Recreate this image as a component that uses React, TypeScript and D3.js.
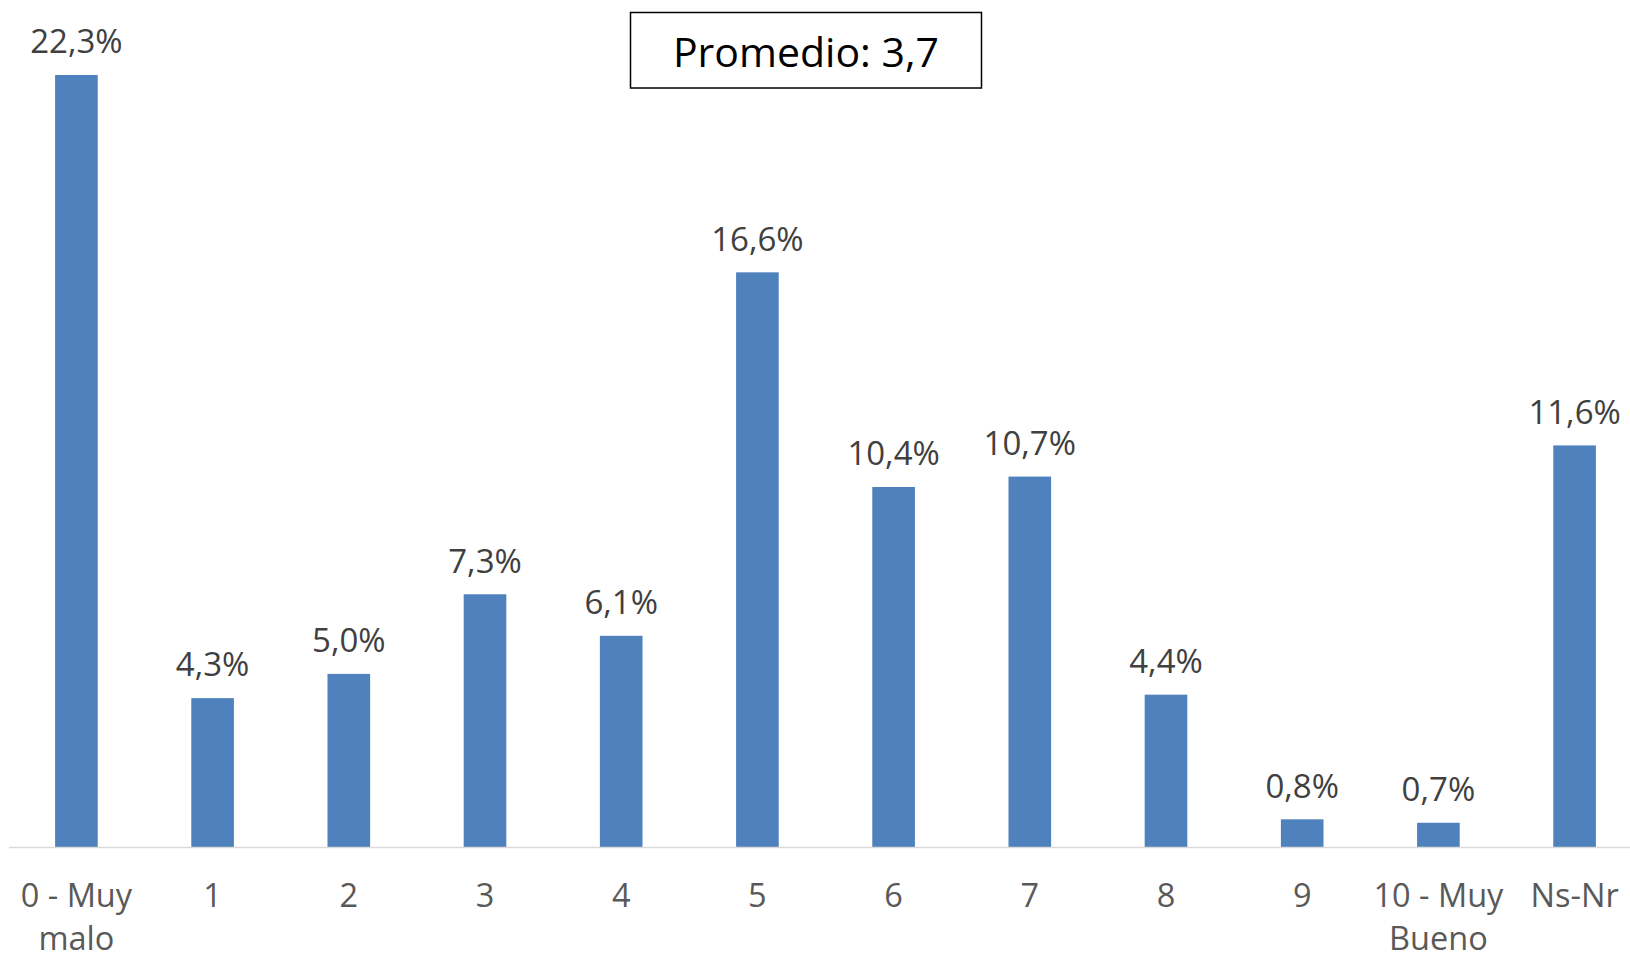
import React from "react";
import * as d3 from "d3";

const categories: string[] = [
  "0 - Muy malo",
  "1",
  "2",
  "3",
  "4",
  "5",
  "6",
  "7",
  "8",
  "9",
  "10 - Muy Bueno",
  "Ns-Nr",
];
const values: number[] = [22.3, 4.3, 5.0, 7.3, 6.1, 16.6, 10.4, 10.7, 4.4, 0.8, 0.7, 11.6];
const titleText = "Promedio: 3,7";

const W = 1630;
const H = 956;

function fmt(v: number): string {
  return v.toFixed(1).replace(".", ",") + "%";
}

function splitLabel(s: string): string[] {
  if (s.length <= 8) return [s];
  const i = s.lastIndexOf(" ");
  return [s.slice(0, i), s.slice(i + 1)];
}

export default function App() {
  const x = d3
    .scaleBand<string>()
    .domain(categories)
    .range([8.3, 8.3 + 12 * 136.2])
    .paddingInner(0.687)
    .paddingOuter(0.3435);
  const y = d3.scaleLinear().domain([0, 22.3]).range([847, 75]);
  const font = "'Open Sans', sans-serif";

  return (
    <svg
      width={W}
      height={H}
      style={{ position: "absolute", left: 0, top: 0, background: "#fff" }}
      fontFamily={font}
    >
      <rect x={0} y={0} width={W} height={H} fill="#fff" />
      {categories.map((c, i) => {
        const v = values[i];
        const bx = x(c)!;
        const bw = x.bandwidth();
        return (
          <g key={c}>
            <rect x={bx} y={y(v)} width={bw} height={y(0) - y(v)} fill="#4f81bd" />
            <text
              x={bx + bw / 2}
              y={y(v) - 21.7}
              textAnchor="middle"
              fontSize={33}
              fill="#404040"
            >
              {fmt(v)}
            </text>
            {splitLabel(c).map((line, j) => (
              <text
                key={j}
                x={bx + bw / 2}
                y={907 + j * 43}
                textAnchor="middle"
                fontSize={32.5}
                fill="#595959"
              >
                {line}
              </text>
            ))}
          </g>
        );
      })}
      <line x1={9} x2={W} y1={y(0) + 0.5} y2={y(0) + 0.5} stroke="#d9d9d9" strokeWidth={1.5} />
      <rect x={630.5} y={12.5} width={351} height={75.5} fill="#fff" stroke="#000" strokeWidth={1.5} />
      <text x={806} y={66.5} textAnchor="middle" fontSize={41} fill="#000">
        {titleText}
      </text>
    </svg>
  );
}
